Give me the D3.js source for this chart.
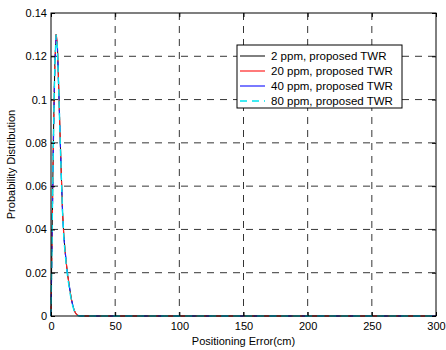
<!DOCTYPE html>
<html>
<head>
<meta charset="utf-8">
<script src="https://cdn.jsdelivr.net/npm/d3@7"></script>
<style>
body { margin: 0; background: #fff; }
text { font-family: "Liberation Sans", Arial, sans-serif; }
</style>
</head>
<body>
<svg id="chart" width="446" height="350"></svg>
<script>
// positioning error (cm)
var errX = [0, 1, 2, 3, 4, 5, 6, 7, 8, 9, 10, 11, 12, 13, 14, 15, 16, 17, 18, 19, 20, 21, 22, 23, 25, 50, 100, 150, 200, 250, 300]
var ppm2  = [0, 0.045, 0.086, 0.116, 0.130, 0.125, 0.106, 0.085, 0.066, 0.048, 0.037, 0.030, 0.024, 0.019, 0.015, 0.011, 0.0075, 0.0048, 0.0028, 0.0015, 0.0007, 0.0003, 0.0001, 0, 0, 0, 0, 0, 0, 0, 0]
var ppm20 = [0, 0.046, 0.087, 0.117, 0.131, 0.125, 0.106, 0.085, 0.066, 0.048, 0.037, 0.030, 0.024, 0.019, 0.015, 0.011, 0.0075, 0.0048, 0.0028, 0.0015, 0.0007, 0.0003, 0.0001, 0, 0, 0, 0, 0, 0, 0, 0]
var ppm40 = [0, 0.044, 0.085, 0.116, 0.129, 0.124, 0.105, 0.085, 0.066, 0.048, 0.037, 0.030, 0.024, 0.019, 0.015, 0.011, 0.0075, 0.0048, 0.0028, 0.0015, 0.0007, 0.0003, 0.0001, 0, 0, 0, 0, 0, 0, 0, 0]
var ppm80 = [0, 0.045, 0.086, 0.117, 0.130, 0.124, 0.105, 0.084, 0.065, 0.048, 0.036, 0.029, 0.023, 0.018, 0.014, 0.010, 0.007, 0.0045, 0.0026, 0.0014, 0.0006, 0.0002, 0.0001, 0, 0, 0, 0, 0, 0, 0, 0]
var labels = ['2 ppm, proposed TWR', '20 ppm, proposed TWR', '40 ppm, proposed TWR', '80 ppm, proposed TWR']
var xTicks = [0, 50, 100, 150, 200, 250, 300]
var yTicks = [0, 0.02, 0.04, 0.06, 0.08, 0.1, 0.12, 0.14]

var series = [
  {name: labels[0], vals: ppm2,  color: '#000000', dash: null, w: 1},
  {name: labels[1], vals: ppm20, color: '#ff2020', dash: '10,6', w: 1.2},
  {name: labels[2], vals: ppm40, color: '#2020ff', dash: '6,10', w: 1.2},
  {name: labels[3], vals: ppm80, color: '#00e5f0', dash: '7,5', w: 1.4}
]

var svg = d3.select('#chart')
var pLeft = 51, pRight = 436, pTop = 13, pBottom = 316

var x = d3.scaleLinear().domain([0, 300]).range([pLeft, pRight])
var y = d3.scaleLinear().domain([0, 0.14]).range([pBottom, pTop])

// grid
var g = svg.append('g')
xTicks.slice(1, -1).forEach(function(t) {
  g.append('line').attr('x1', x(t)).attr('x2', x(t)).attr('y1', pTop).attr('y2', pBottom)
    .attr('stroke', '#000').attr('stroke-width', 0.8).attr('stroke-dasharray', '7,6')
})
yTicks.slice(1, -1).forEach(function(t) {
  g.append('line').attr('x1', pLeft).attr('x2', pRight).attr('y1', y(t)).attr('y2', y(t))
    .attr('stroke', '#000').attr('stroke-width', 0.8).attr('stroke-dasharray', '7,6')
})

// curves
var line = d3.line().x(function(d, i) { return x(errX[i]) }).y(function(d) { return y(d) })
series.forEach(function(s) {
  svg.append('path').datum(s.vals).attr('d', line)
    .attr('fill', 'none').attr('stroke', s.color).attr('stroke-width', s.w)
    .attr('stroke-dasharray', s.dash)
})

// axes with inward ticks
var xAxis = d3.axisBottom(x).tickValues(xTicks).tickSizeInner(-4).tickSizeOuter(0).tickPadding(6)
var yAxis = d3.axisLeft(y).tickValues(yTicks).tickSizeInner(-4).tickSizeOuter(0).tickPadding(4)
  .tickFormat(function(d) { return d3.format('~g')(d) })
var xa = svg.append('g').attr('transform', 'translate(0,' + pBottom + ')').call(xAxis)
var ya = svg.append('g').attr('transform', 'translate(' + pLeft + ',0)').call(yAxis)
var xt = svg.append('g').attr('transform', 'translate(0,' + pTop + ')').call(d3.axisTop(x).tickValues(xTicks).tickSizeInner(-4).tickSizeOuter(0).tickFormat(''))
var yr = svg.append('g').attr('transform', 'translate(' + pRight + ',0)').call(d3.axisRight(y).tickValues(yTicks).tickSizeInner(-4).tickSizeOuter(0).tickFormat(''))
;[xa, ya, xt, yr].forEach(function(a) {
  a.select('.domain').remove()
  a.selectAll('text').attr('font-size', 11).attr('fill', '#000').style('font-family', '"Liberation Sans", Arial, sans-serif')
  a.selectAll('line').attr('stroke', '#000')
})
svg.append('rect').attr('x', pLeft).attr('y', pTop).attr('width', pRight - pLeft).attr('height', pBottom - pTop)
  .attr('fill', 'none').attr('stroke', '#000').attr('stroke-width', 1)

// axis labels
svg.append('text').attr('x', (pLeft + pRight) / 2).attr('y', 345).attr('text-anchor', 'middle')
  .attr('font-size', 11).text('Positioning Error(cm)')
svg.append('text').attr('transform', 'translate(15,' + ((pTop + pBottom) / 2) + ') rotate(-90)')
  .attr('text-anchor', 'middle').attr('font-size', 11).text('Probability Distribution')

// legend
var lg = svg.append('g').attr('transform', 'translate(237,45)')
lg.append('rect').attr('width', 165).attr('height', 63).attr('fill', '#fff').attr('stroke', '#000').attr('stroke-width', 1)
series.forEach(function(s, i) {
  var yy = 11 + i * 15
  lg.append('line').attr('x1', 3).attr('x2', 28).attr('y1', yy).attr('y2', yy)
    .attr('stroke', s.color).attr('stroke-width', s.w)
    .attr('stroke-dasharray', i == 3 ? '7,5' : null)
  lg.append('text').attr('x', 34).attr('y', yy + 4).attr('font-size', 11.5).text(s.name)
})
</script>
</body>
</html>
